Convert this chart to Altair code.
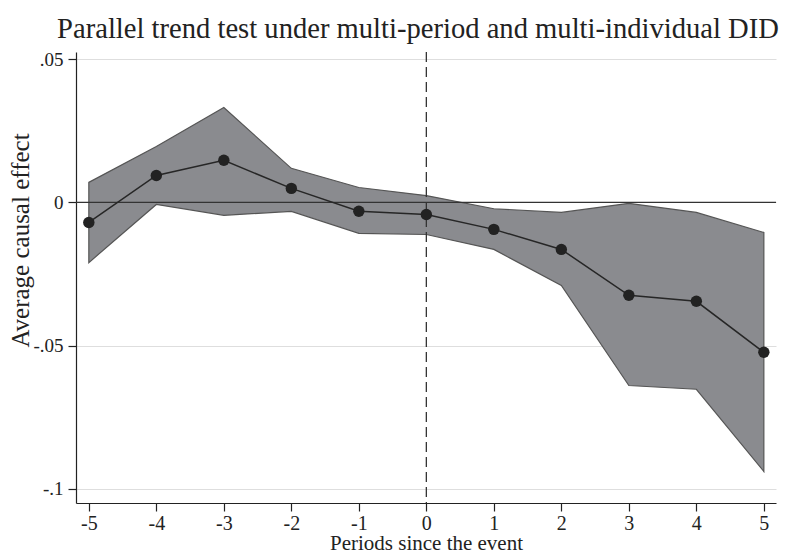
import altair as alt
import pandas as pd

periods = [-5, -4, -3, -2, -1, 0, 1, 2, 3, 4, 5]
effect = [-0.0070, 0.0094, 0.0147, 0.0049, -0.0031, -0.0042, -0.0094, -0.0164, -0.0324, -0.0345, -0.0523]
upper = [0.0070, 0.0195, 0.0331, 0.0119, 0.0052, 0.0024, -0.0022, -0.0035, -0.0003, -0.0035, -0.0105]
lower = [-0.0210, -0.0007, -0.0045, -0.0031, -0.0108, -0.0112, -0.0164, -0.0290, -0.0639, -0.0652, -0.0939]
x_ticks = [-5, -4, -3, -2, -1, 0, 1, 2, 3, 4, 5]
y_ticks = [-0.1, -0.05, 0, 0.05]

df = pd.DataFrame({"period": periods, "effect": effect, "upper": upper, "lower": lower})

FONT = "Liberation Serif"
xscale = alt.Scale(domain=[-5.19, 5.18], nice=False, zero=False)
yscale = alt.Scale(domain=[-0.1049, 0.0525], nice=False, zero=False)

xaxis = alt.Axis(values=x_ticks, title="Periods since the event", grid=False,
                 labelExpr="replace(format(datum.value, 'd'), '\u2212', '-')",
                 labelFont=FONT, labelFontSize=20, titleFont=FONT, titleFontSize=21,
                 labelPadding=2, titlePadding=-1, tickSize=8)
yaxis = alt.Axis(values=y_ticks, title="Average causal effect", grid=True, gridColor="#dedede",
                 labelExpr="datum.value == 0 ? '0' : replace(replace(format(datum.value, '.2~f'), '0.', '.'), '\u2212', '-')",
                 labelFont=FONT, labelFontSize=19, titleFont=FONT, titleFontSize=25,
                 labelPadding=5, tickSize=8,
                 titleX=-56, titleY=188, titleAngle=270, titleAlign="center", titleBaseline="middle")

base = alt.Chart(df)

band = base.mark_area(color="#8a8b8f", opacity=1, stroke="#555555", strokeWidth=1.2).encode(
    x=alt.X("period:Q", scale=xscale, axis=xaxis),
    y=alt.Y("upper:Q", scale=yscale, axis=yaxis),
    y2="lower:Q",
)

zero_line = alt.Chart(pd.DataFrame({"y": [0]})).mark_rule(color="#333", strokeWidth=1.3).encode(
    y=alt.Y("y:Q", scale=yscale, axis=yaxis)
)
vline = alt.Chart(pd.DataFrame({"x": [0]})).mark_rule(color="#333", strokeWidth=1.3, strokeDash=[10, 5]).encode(
    x=alt.X("x:Q", scale=xscale, axis=xaxis)
)

line = base.mark_line(color="#262626", strokeWidth=1.5).encode(
    x=alt.X("period:Q", scale=xscale, axis=xaxis),
    y=alt.Y("effect:Q", scale=yscale, axis=yaxis),
)
pts = base.mark_point(filled=True, color="#222222", size=130, opacity=1).encode(
    x=alt.X("period:Q", scale=xscale, axis=xaxis),
    y=alt.Y("effect:Q", scale=yscale, axis=yaxis),
)

chart = alt.layer(band, zero_line, vline, line, pts).properties(
    width=700, height=451,
    background="white",
    title=alt.TitleParams("Parallel trend test under multi-period and multi-individual DID",
                          font=FONT, fontSize=28.6, fontWeight="normal", color="#222",
                          anchor="middle", offset=7, dx=-8),
    autosize=alt.AutoSizeParams(type="none"),
    padding={"left": 68, "top": 44, "right": 7, "bottom": 51},
).configure_view(stroke=None).configure_axis(
    labelFont=FONT, titleFont=FONT,
    labelColor="#222", titleColor="#222", domainColor="#222", tickColor="#222",
    titleFontWeight="normal", labelFlush=False, domainWidth=1.2, tickWidth=1.2,
)

chart.save("out.html", embed_options={"renderer": "svg", "actions": False})
